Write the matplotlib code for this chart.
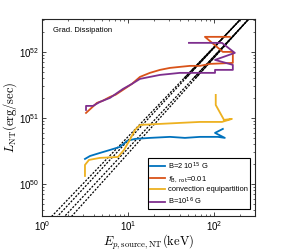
import numpy as np
import matplotlib
matplotlib.use("Agg")
import matplotlib.pyplot as plt

plt.rcParams['font.family'] = ['Liberation Sans', 'DejaVu Sans']

# run curves: E_p (keV) vs L_NT (erg/s)
blue_E = [3.16, 3.62, 4.73, 6.18, 8.07, 9.74, 12.1, 18.0, 30.8, 46.0, 68.7, 111, 134, 103, 127]
blue_L = np.array([2.39, 2.65, 2.95, 3.27, 3.64, 4.48, 4.81, 4.98, 5.16, 4.98, 5.16, 5.16, 4.98, 5.93, 6.81]) * 1e50

orange_E = [3.25, 4.36, 5.0, 6.18, 7.2, 8.75, 11.1, 13.8, 18.0, 23.6, 30.8, 40.2, 52.6, 68.7, 89.8, 166, 166, 127, 78.6, 153]
orange_L = np.array([1.19, 1.69, 1.80, 2.08, 2.25, 2.66, 3.27, 4.18, 4.81, 5.34, 5.72, 5.93, 6.14, 6.14, 6.58, 6.81, 10.0, 10.0, 16.9, 16.9]) * 1e51

yellow_E = [3.16, 3.16, 3.52, 4.73, 7.65, 8.98, 10.5, 12.1, 13.8, 23.6, 40.2, 68.7, 124, 162, 131, 105, 105]
yellow_L = np.array([1.32, 1.94, 2.31, 2.48, 2.56, 3.27, 4.64, 6.58, 7.83, 8.11, 8.40, 8.69, 8.69, 9.66, 9.33, 15.7, 22.3]) * 1e50

purple_E = [3.25, 3.25, 3.92, 4.73, 6.18, 8.75, 11.1, 13.8, 18.0, 23.6, 30.8, 40.2, 68.7, 103, 103, 166, 166, 103, 175, 124, 51.2]
purple_L = np.array([1.32, 1.52, 1.52, 1.75, 2.01, 2.75, 3.27, 3.90, 4.18, 4.48, 4.64, 4.81, 4.81, 4.81, 5.34, 5.34, 6.36, 7.56, 9.66, 13.7, 13.7]) * 1e51

# gradient dissipation relations (end points)
rel_E_low = [1.31, 1.53, 1.85, 2.23]
rel_E_high = [206, 206, 255, 255]
rel_L_low = 3.27e49
rel_L_high = 3.16e52
solid_above = 4.0e51

labels = ['B=2 10$^{15}$ G', '$f_{\\mathrm{B,\\ rot}}$=0.01',
          'convection equipartition', 'B=10$^{16}$ G']
colors = ['#0072BD', '#D95319', '#EDB120', '#7E2F8E']

fig = plt.figure(figsize=(2.82, 2.52), dpi=100)
ax = fig.add_axes([0.149, 0.143, 0.755, 0.782])

for i in range(len(rel_E_low)):
    slope = np.log10(rel_L_high / rel_L_low) / np.log10(rel_E_high[i] / rel_E_low[i])
    E0 = rel_E_low[i] / 1.5
    E1 = rel_E_high[i] * 1.5
    Es = np.array([E0, E1])
    Ls = rel_L_low * (Es / rel_E_low[i]) ** slope
    ax.plot(Es, Ls, color='k', lw=0.9, linestyle=(i * 0.7, (1.6, 1.2)))
    E_s = rel_E_low[i] * (solid_above / rel_L_low) ** (1 / slope)
    ax.plot([E_s, E1], [solid_above, rel_L_low * (E1 / rel_E_low[i]) ** slope], color='k', lw=0.8)

ax.plot(blue_E, blue_L, color=colors[0], lw=1.3, label=labels[0])
ax.plot(orange_E, orange_L, color=colors[1], lw=1.3, label=labels[1])
ax.plot(yellow_E, yellow_L, color=colors[2], lw=1.3, label=labels[2])
ax.plot(purple_E, purple_L, color=colors[3], lw=1.3, label=labels[3])

ax.set_xscale('log')
ax.set_yscale('log')
ax.set_xlim(1, 300)
ax.set_ylim(3.27e49, 3.16e52)

ax.tick_params(which='both', direction='in', top=True, right=True, labelsize=7, color='#262626', pad=2)
ax.tick_params(which='major', length=3, width=0.6)
ax.tick_params(which='minor', length=1.6, width=0.5)
for s in ax.spines.values():
    s.set_linewidth(0.8)
    s.set_color('#262626')

ax.set_xlabel(r'$E_{p,\mathrm{source,NT}}(\mathrm{keV})$', fontsize=9, math_fontfamily='cm', labelpad=0)
ax.set_ylabel(r'$L_{\mathrm{NT}}(\mathrm{erg/sec})$', fontsize=9, math_fontfamily='cm', labelpad=0)

ax.text(0.052, 0.94, 'Grad. Dissipation', transform=ax.transAxes, fontsize=5.5, va='center', ha='left')

leg = ax.legend(loc='lower right', fontsize=5.4, frameon=True, fancybox=False, framealpha=1,
                edgecolor='k', handlelength=2.0, handletextpad=0.3, borderpad=0.3,
                labelspacing=0.3, borderaxespad=0.4, bbox_to_anchor=(0.99, 0.02))
leg.get_frame().set_linewidth(0.8)

fig.savefig('out.png', dpi=100)
